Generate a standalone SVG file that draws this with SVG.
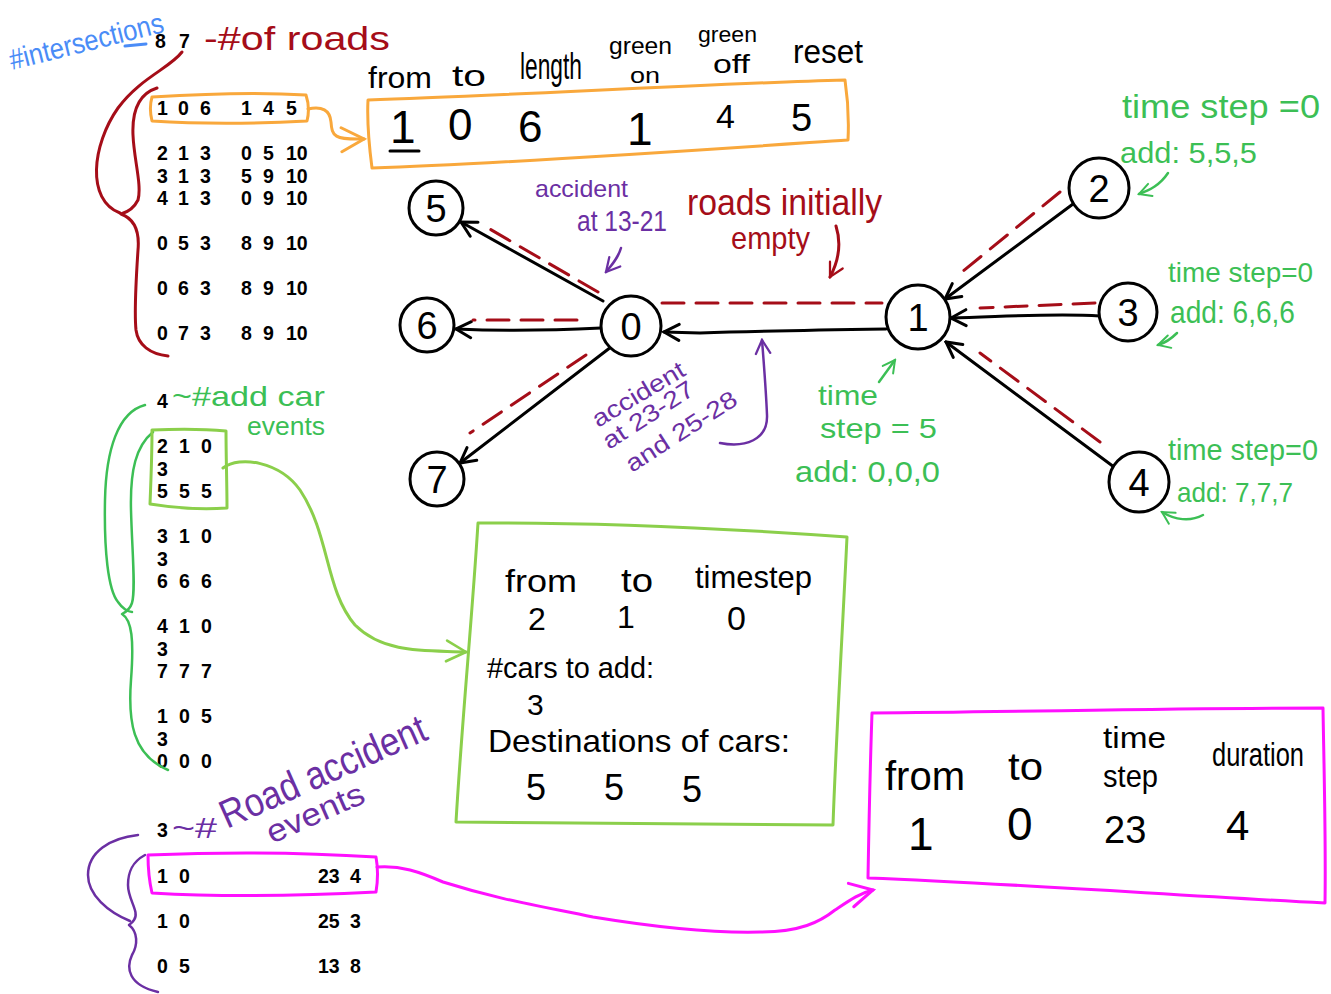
<svg xmlns="http://www.w3.org/2000/svg" width="1331" height="994" viewBox="0 0 1331 994">
<style>
.hw{font-family:"Liberation Sans",Arial,sans-serif;font-weight:normal}
.dat{font-family:"Liberation Sans",Arial,sans-serif;font-weight:bold;font-size:19.5px;fill:#000}
.s{fill:none;stroke-linecap:round;stroke-linejoin:round}
.blk{stroke:#000;stroke-width:3}
.red{stroke:#a50d18;stroke-width:3}
.dash{stroke:#a50d18;stroke-width:3;stroke-dasharray:22 12}
.org{stroke:#f9a83c;stroke-width:3}
.lg{stroke:#8bcf4b;stroke-width:3}
.grn{stroke:#3cbf55;stroke-width:2.5}
.pur{stroke:#6b2fa3;stroke-width:2.5}
.mag{stroke:#ff10ff;stroke-width:3}
.node circle{fill:#fff;stroke:#000;stroke-width:3}
.node text{font-family:"Liberation Sans",Arial,sans-serif;font-size:38px;text-anchor:middle;fill:#000}
</style>
<defs>
<marker id="mb" viewBox="0 0 20 20" refX="18" refY="10" markerWidth="20" markerHeight="20" markerUnits="userSpaceOnUse" orient="auto"><path d="M3,2 L18,10 L3,18" fill="none" stroke="#000" stroke-width="3" stroke-linecap="round"/></marker>
<marker id="mp" viewBox="0 0 20 20" refX="18" refY="10" markerWidth="18" markerHeight="18" markerUnits="userSpaceOnUse" orient="auto"><path d="M3,2 L18,10 L3,18" fill="none" stroke="#6b2fa3" stroke-width="2.5" stroke-linecap="round"/></marker>
<marker id="mg" viewBox="0 0 20 20" refX="18" refY="10" markerWidth="16" markerHeight="16" markerUnits="userSpaceOnUse" orient="auto"><path d="M3,2 L18,10 L3,18" fill="none" stroke="#3cbf55" stroke-width="2.5" stroke-linecap="round"/></marker>
<marker id="mr" viewBox="0 0 20 20" refX="18" refY="10" markerWidth="18" markerHeight="18" markerUnits="userSpaceOnUse" orient="auto"><path d="M3,2 L18,10 L3,18" fill="none" stroke="#a50d18" stroke-width="2.5" stroke-linecap="round"/></marker>
<marker id="mo" viewBox="0 0 20 20" refX="18" refY="10" markerWidth="30" markerHeight="30" markerUnits="userSpaceOnUse" orient="auto"><path d="M3,2 L18,10 L3,18" fill="none" stroke="#f9a83c" stroke-width="2" stroke-linecap="round"/></marker>
<marker id="ml" viewBox="0 0 20 20" refX="18" refY="10" markerWidth="26" markerHeight="26" markerUnits="userSpaceOnUse" orient="auto"><path d="M3,2 L18,10 L3,18" fill="none" stroke="#8bcf4b" stroke-width="2" stroke-linecap="round"/></marker>
<marker id="mm" viewBox="0 0 20 20" refX="18" refY="10" markerWidth="30" markerHeight="30" markerUnits="userSpaceOnUse" orient="auto"><path d="M3,2 L18,10 L3,18" fill="none" stroke="#ff10ff" stroke-width="2" stroke-linecap="round"/></marker>
</defs>
<rect width="1331" height="994" fill="#fff"/>

<!-- header annotations -->
<g id="label-intersections">
<text class="hw" x="12" y="70" font-size="29" fill="#4a8cf7" transform="rotate(-14 12 70)" textLength="158" lengthAdjust="spacingAndGlyphs">#intersections</text>
<path class="s" d="M125,46 L146,44" stroke="#4a8cf7" stroke-width="3"/>
<text class="dat" x="155" y="48">8</text>
<text class="dat" x="179" y="48">7</text>
</g>
<g id="label-roads">
<text class="hw" x="204" y="50" font-size="34" fill="#a50d18" textLength="186" lengthAdjust="spacingAndGlyphs">-#of roads</text>
</g>

<!-- roads data -->
<g id="roads-data">
<text class="dat" x="157" y="115">1</text><text class="dat" x="178" y="115">0</text><text class="dat" x="200" y="115">6</text>
<text class="dat" x="241" y="115">1</text><text class="dat" x="263" y="115">4</text><text class="dat" x="286" y="115">5</text>
<text class="dat" x="157" y="160">2</text><text class="dat" x="178" y="160">1</text><text class="dat" x="200" y="160">3</text>
<text class="dat" x="241" y="160">0</text><text class="dat" x="263" y="160">5</text><text class="dat" x="286" y="160">10</text>
<text class="dat" x="157" y="183">3</text><text class="dat" x="178" y="183">1</text><text class="dat" x="200" y="183">3</text>
<text class="dat" x="241" y="183">5</text><text class="dat" x="263" y="183">9</text><text class="dat" x="286" y="183">10</text>
<text class="dat" x="157" y="205">4</text><text class="dat" x="178" y="205">1</text><text class="dat" x="200" y="205">3</text>
<text class="dat" x="241" y="205">0</text><text class="dat" x="263" y="205">9</text><text class="dat" x="286" y="205">10</text>
<text class="dat" x="157" y="250">0</text><text class="dat" x="178" y="250">5</text><text class="dat" x="200" y="250">3</text>
<text class="dat" x="241" y="250">8</text><text class="dat" x="263" y="250">9</text><text class="dat" x="286" y="250">10</text>
<text class="dat" x="157" y="295">0</text><text class="dat" x="178" y="295">6</text><text class="dat" x="200" y="295">3</text>
<text class="dat" x="241" y="295">8</text><text class="dat" x="263" y="295">9</text><text class="dat" x="286" y="295">10</text>
<text class="dat" x="157" y="340">0</text><text class="dat" x="178" y="340">7</text><text class="dat" x="200" y="340">3</text>
<text class="dat" x="241" y="340">8</text><text class="dat" x="263" y="340">9</text><text class="dat" x="286" y="340">10</text>
<path class="s red" d="M182,52 C170,68 140,78 118,108 C92,145 86,200 120,213"/>
<path class="s red" d="M157,88 C138,94 132,112 133,135 C134,160 142,185 138,200 C134,208 128,212 121,214 C132,218 140,228 138,250 C136,280 134,310 136,330 C138,345 150,354 168,356"/>
<path class="s org" d="M152,97 C200,94 260,92 306,95 C309,104 309,113 307,121 C250,124 200,124 152,121 C150,113 150,104 152,97 Z"/>
</g>

<!-- orange road detail box -->
<g id="road-detail">
<path class="s org" d="M368,100 C500,96 700,84 845,80 C848,100 849,120 848,140 C700,150 500,164 372,168 C369,145 367,120 368,100 Z"/>
<text class="hw" x="368" y="88" font-size="30" textLength="64" lengthAdjust="spacingAndGlyphs">from</text>
<text class="hw" x="452" y="86" font-size="30" textLength="34" lengthAdjust="spacingAndGlyphs">to</text>
<text class="hw" x="520" y="79" font-size="36" textLength="62" lengthAdjust="spacingAndGlyphs">length</text>
<text class="hw" x="609" y="54" font-size="24" textLength="63" lengthAdjust="spacingAndGlyphs">green</text>
<text class="hw" x="630" y="83" font-size="22" textLength="30" lengthAdjust="spacingAndGlyphs">on</text>
<text class="hw" x="698" y="42" font-size="22" textLength="59" lengthAdjust="spacingAndGlyphs">green</text>
<text class="hw" x="713" y="73" font-size="25" textLength="37" lengthAdjust="spacingAndGlyphs">off</text>
<text class="hw" x="793" y="63" font-size="34" textLength="70" lengthAdjust="spacingAndGlyphs">reset</text>
<text class="hw" x="390" y="143" font-size="46">1</text>
<path class="s blk" d="M390,151 L419,151" stroke-width="2.5"/>
<text class="hw" x="448" y="140" font-size="44">0</text>
<text class="hw" x="518" y="142" font-size="44">6</text>
<text class="hw" x="627" y="145" font-size="46">1</text>
<text class="hw" x="716" y="128" font-size="34">4</text>
<text class="hw" x="791" y="131" font-size="38">5</text>
</g>

<!-- connectors -->
<g id="connectors">
<path class="s org" d="M308,109 C322,106 330,110 331,122 C332,136 334,140 364,139" marker-end="url(#mo)"/>
<line class="s blk" x1="603" y1="301" x2="461" y2="222" marker-end="url(#mb)"/>
<path class="s blk" d="M601,328 C560,330 500,331 456,329" marker-end="url(#mb)"/>
<line class="s blk" x1="611" y1="347" x2="460" y2="463" marker-end="url(#mb)"/>
<path class="s blk" d="M886,329 C820,330 760,331 700,333 L664,332" marker-end="url(#mb)"/>
<line class="s blk" x1="1073" y1="204" x2="945" y2="299" marker-end="url(#mb)"/>
<path class="s blk" d="M1100,316 C1050,313 1000,317 951,318" marker-end="url(#mb)"/>
<line class="s blk" x1="1114" y1="467" x2="946" y2="342" marker-end="url(#mb)"/>
<line class="s dash" x1="598" y1="292" x2="488" y2="228"/>
<line class="s dash" x1="577" y1="320" x2="473" y2="320"/>
<line class="s dash" x1="586" y1="355" x2="470" y2="433"/>
<line class="s dash" x1="662" y1="303" x2="882" y2="303"/>
<line class="s dash" x1="1060" y1="192" x2="962" y2="272"/>
<line class="s dash" x1="1095" y1="303" x2="980" y2="308"/>
<line class="s dash" x1="1100" y1="442" x2="980" y2="353"/>
<!-- annotation arrows -->
<path class="s pur" d="M621,248 C618,258 612,265 606,272" marker-end="url(#mp)"/>
<path class="s red" d="M836,226 C842,245 838,262 830,277" marker-end="url(#mr)"/>
<path class="s pur" d="M720,443 C745,448 768,440 767,415 C766,390 764,365 762,340" marker-end="url(#mp)"/>
<path class="s grn" d="M879,382 L895,360" marker-end="url(#mg)"/>
<path class="s grn" d="M1168,173 C1160,185 1150,190 1139,194" marker-end="url(#mg)"/>
<path class="s grn" d="M1177,333 C1170,340 1165,343 1158,345" marker-end="url(#mg)"/>
<path class="s grn" d="M1203,515 C1190,522 1175,520 1162,512" marker-end="url(#mg)"/>
<path class="s lg" d="M223,468 C240,455 280,462 300,490 C330,535 325,590 355,625 C385,655 430,650 466,652" marker-end="url(#ml)"/>
<path class="s mag" d="M377,867 C400,865 420,872 443,882 C500,900 540,906 593,917 C660,928 720,933 760,932 C800,932 820,922 835,910 C850,900 860,893 873,890" marker-end="url(#mm)"/>
</g>

<!-- nodes -->
<g id="node-5" class="node"><circle cx="436" cy="208" r="27"/><text x="436" y="222">5</text></g>
<g id="node-6" class="node"><circle cx="427" cy="325" r="27"/><text x="427" y="339">6</text></g>
<g id="node-0" class="node"><circle cx="631" cy="326" r="30"/><text x="631" y="340">0</text></g>
<g id="node-7" class="node"><circle cx="437" cy="479" r="27"/><text x="437" y="493">7</text></g>
<g id="node-1" class="node"><circle cx="918" cy="317" r="32"/><text x="918" y="331">1</text></g>
<g id="node-2" class="node"><circle cx="1099" cy="188" r="30"/><text x="1099" y="202">2</text></g>
<g id="node-3" class="node"><circle cx="1128" cy="312" r="29"/><text x="1128" y="326">3</text></g>
<g id="node-4" class="node"><circle cx="1139" cy="482" r="30"/><text x="1139" y="496">4</text></g>

<!-- graph annotations -->
<g id="note-accident-13-21" fill="#6b2fa3">
<text class="hw" x="535" y="197" font-size="24" textLength="93" lengthAdjust="spacingAndGlyphs">accident</text>
<text class="hw" x="577" y="231" font-size="30" textLength="90" lengthAdjust="spacingAndGlyphs">at 13-21</text>
</g>
<g id="note-roads-empty" fill="#a50d18">
<text class="hw" x="687" y="215" font-size="36" textLength="195" lengthAdjust="spacingAndGlyphs">roads initially</text>
<text class="hw" x="731" y="249" font-size="32" textLength="79" lengthAdjust="spacingAndGlyphs">empty</text>
</g>
<g id="note-accident-23" fill="#6b2fa3">
<text class="hw" x="598" y="428" font-size="24" transform="rotate(-31 598 428)" textLength="104" lengthAdjust="spacingAndGlyphs">accident</text>
<text class="hw" x="609" y="450" font-size="24" transform="rotate(-33 609 450)" textLength="104" lengthAdjust="spacingAndGlyphs">at 23-27</text>
<text class="hw" x="632" y="473" font-size="24" transform="rotate(-33 632 473)" textLength="128" lengthAdjust="spacingAndGlyphs">and 25-28</text>
</g>
<g id="note-node1" fill="#3cbf55">
<text class="hw" x="818" y="405" font-size="28" textLength="60" lengthAdjust="spacingAndGlyphs">time</text>
<text class="hw" x="820" y="438" font-size="28" textLength="117" lengthAdjust="spacingAndGlyphs">step  = 5</text>
<text class="hw" x="795" y="482" font-size="30" textLength="145" lengthAdjust="spacingAndGlyphs">add: 0,0,0</text>
</g>
<g id="note-node2" fill="#3cbf55">
<text class="hw" x="1122" y="118" font-size="34" textLength="198" lengthAdjust="spacingAndGlyphs">time step =0</text>
<text class="hw" x="1120" y="163" font-size="30" textLength="137" lengthAdjust="spacingAndGlyphs">add: 5,5,5</text>
</g>
<g id="note-node3" fill="#3cbf55">
<text class="hw" x="1168" y="282" font-size="28" textLength="145" lengthAdjust="spacingAndGlyphs">time step=0</text>
<text class="hw" x="1170" y="323" font-size="32" textLength="125" lengthAdjust="spacingAndGlyphs">add: 6,6,6</text>
</g>
<g id="note-node4" fill="#3cbf55">
<text class="hw" x="1168" y="460" font-size="30" textLength="150" lengthAdjust="spacingAndGlyphs">time step=0</text>
<text class="hw" x="1177" y="502" font-size="28" textLength="116" lengthAdjust="spacingAndGlyphs">add: 7,7,7</text>
</g>

<!-- add car events -->
<g id="car-events">
<text class="dat" x="157" y="408">4</text>
<text class="hw" x="172" y="406" font-size="28" fill="#3cbf55" textLength="153" lengthAdjust="spacingAndGlyphs">~#add car</text>
<text class="hw" x="247" y="435" font-size="25" fill="#3cbf55" textLength="78" lengthAdjust="spacingAndGlyphs">events</text>
<text class="dat" x="157" y="453">2</text><text class="dat" x="179" y="453">1</text><text class="dat" x="201" y="453">0</text>
<text class="dat" x="157" y="476">3</text>
<text class="dat" x="157" y="498">5</text><text class="dat" x="179" y="498">5</text><text class="dat" x="201" y="498">5</text>
<text class="dat" x="157" y="543">3</text><text class="dat" x="179" y="543">1</text><text class="dat" x="201" y="543">0</text>
<text class="dat" x="157" y="566">3</text>
<text class="dat" x="157" y="588">6</text><text class="dat" x="179" y="588">6</text><text class="dat" x="201" y="588">6</text>
<text class="dat" x="157" y="633">4</text><text class="dat" x="179" y="633">1</text><text class="dat" x="201" y="633">0</text>
<text class="dat" x="157" y="656">3</text>
<text class="dat" x="157" y="678">7</text><text class="dat" x="179" y="678">7</text><text class="dat" x="201" y="678">7</text>
<text class="dat" x="157" y="723">1</text><text class="dat" x="179" y="723">0</text><text class="dat" x="201" y="723">5</text>
<text class="dat" x="157" y="746">3</text>
<text class="dat" x="157" y="768">0</text><text class="dat" x="179" y="768">0</text><text class="dat" x="201" y="768">0</text>
<path class="s grn" stroke-width="3" d="M145,405 C118,412 106,450 105,500 C104,550 108,590 118,602 C122,608 128,612 132,612"/>
<path class="s grn" stroke-width="3" d="M153,432 C136,446 130,470 131,510 C132,550 136,590 132,603 C130,609 126,612 122,614 C132,620 134,640 131,680 C128,720 132,755 168,770"/>
<path class="s lg" d="M152,430 C175,429 205,429 226,431 C226,456 227,485 227,508 C200,510 175,508 150,504 C151,480 152,455 152,430 Z"/>
</g>

<!-- green detail box -->
<g id="car-detail">
<path class="s lg" d="M478,523 C600,522 720,528 847,537 C842,640 836,740 833,825 C700,824 580,823 456,822 C462,720 472,620 478,523 Z"/>
<text class="hw" x="505" y="592" font-size="32" textLength="72" lengthAdjust="spacingAndGlyphs">from</text>
<text class="hw" x="621" y="592" font-size="34" textLength="32" lengthAdjust="spacingAndGlyphs">to</text>
<text class="hw" x="695" y="588" font-size="32" textLength="117" lengthAdjust="spacingAndGlyphs">timestep</text>
<text class="hw" x="528" y="630" font-size="32">2</text>
<text class="hw" x="617" y="628" font-size="32">1</text>
<text class="hw" x="727" y="630" font-size="34">0</text>
<text class="hw" x="487" y="678" font-size="30" textLength="167" lengthAdjust="spacingAndGlyphs">#cars to add:</text>
<text class="hw" x="527" y="715" font-size="30">3</text>
<text class="hw" x="488" y="752" font-size="32" textLength="302" lengthAdjust="spacingAndGlyphs">Destinations of cars:</text>
<text class="hw" x="526" y="800" font-size="36">5</text>
<text class="hw" x="604" y="800" font-size="36">5</text>
<text class="hw" x="682" y="802" font-size="36">5</text>
</g>

<!-- road accident events -->
<g id="accident-events">
<text class="dat" x="157" y="837">3</text>
<text class="hw" x="172" y="838" font-size="30" fill="#6b2fa3" textLength="45" lengthAdjust="spacingAndGlyphs">~#</text>
<text class="hw" x="227" y="829" font-size="40" fill="#6b2fa3" transform="rotate(-24 227 829)" textLength="222" lengthAdjust="spacingAndGlyphs">Road  accident</text>
<text class="hw" x="272" y="844" font-size="32" fill="#6b2fa3" transform="rotate(-24 272 844)" textLength="104" lengthAdjust="spacingAndGlyphs">events</text>
<text class="dat" x="157" y="883">1</text><text class="dat" x="179" y="883">0</text><text class="dat" x="318" y="883">23</text><text class="dat" x="350" y="883">4</text>
<text class="dat" x="157" y="928">1</text><text class="dat" x="179" y="928">0</text><text class="dat" x="318" y="928">25</text><text class="dat" x="350" y="928">3</text>
<text class="dat" x="157" y="973">0</text><text class="dat" x="179" y="973">5</text><text class="dat" x="318" y="973">13</text><text class="dat" x="350" y="973">8</text>
<path class="s pur" stroke-width="3" d="M138,835 C110,838 88,852 88,875 C88,895 108,912 130,921"/>
<path class="s pur" stroke-width="3" d="M145,855 C132,862 128,872 128,885 C128,900 140,912 134,920 C132,923 130,924 129,925 C138,932 138,945 132,955 C126,968 128,985 158,992"/>
<path class="s mag" d="M148,855 C220,852 300,852 376,857 C378,868 378,880 376,892 C300,896 220,897 152,893 C149,880 148,868 148,855 Z"/>
</g>

<!-- magenta detail box -->
<g id="accident-detail">
<path class="s mag" d="M872,713 C1020,712 1170,708 1323,708 C1324,770 1326,840 1325,903 C1170,895 1020,884 868,878 C869,820 870,770 872,713 Z"/>
<text class="hw" x="885" y="790" font-size="40" textLength="80" lengthAdjust="spacingAndGlyphs">from</text>
<text class="hw" x="1008" y="780" font-size="38" textLength="35" lengthAdjust="spacingAndGlyphs">to</text>
<text class="hw" x="1103" y="748" font-size="30" textLength="63" lengthAdjust="spacingAndGlyphs">time</text>
<text class="hw" x="1103" y="787" font-size="32" textLength="55" lengthAdjust="spacingAndGlyphs">step</text>
<text class="hw" x="1212" y="766" font-size="33" textLength="92" lengthAdjust="spacingAndGlyphs">duration</text>
<text class="hw" x="908" y="850" font-size="46">1</text>
<text class="hw" x="1007" y="840" font-size="46">0</text>
<text class="hw" x="1104" y="843" font-size="38">23</text>
<text class="hw" x="1226" y="840" font-size="42">4</text>
</g>
</svg>
